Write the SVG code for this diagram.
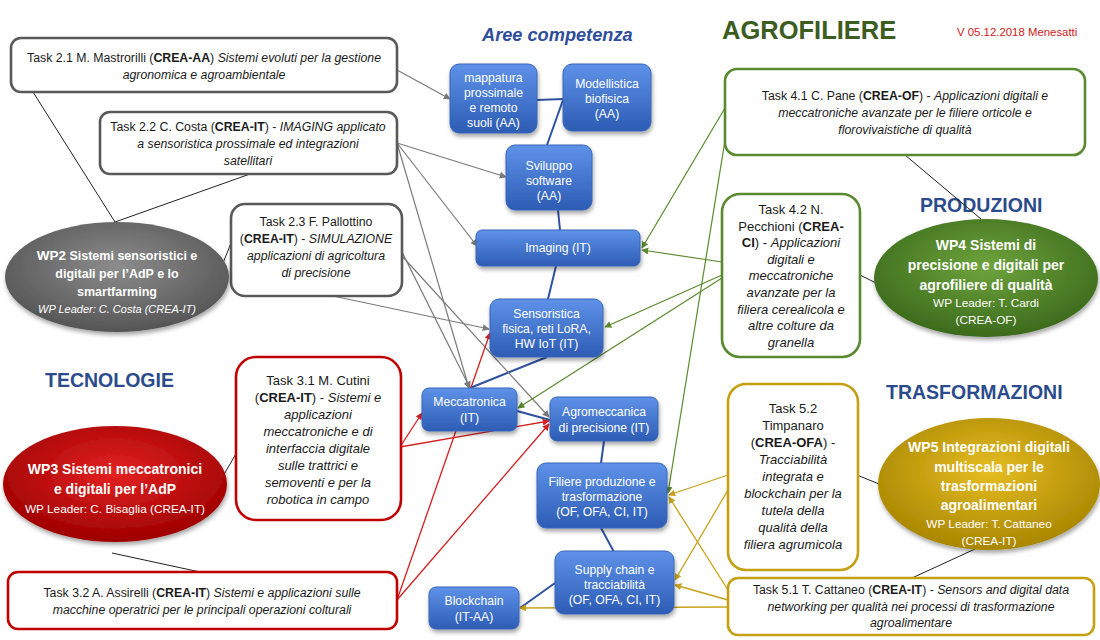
<svg xmlns="http://www.w3.org/2000/svg" width="1100" height="640" viewBox="0 0 1100 640">
<defs>
<style>
.t{font-family:"Liberation Sans",Arial,sans-serif;font-size:12.3px;fill:#1a1a1a;text-anchor:middle}
.t13{font-size:13px}
.b{font-weight:bold}
.i{font-style:italic}
.bx{font-family:"Liberation Sans",Arial,sans-serif;font-size:12.2px;fill:#fff;text-anchor:middle}
.wp{font-family:"Liberation Sans",Arial,sans-serif;fill:#fff;text-anchor:middle}
.head{font-family:"Liberation Sans",Arial,sans-serif;font-weight:bold;fill:#2b4b8c;font-size:19.5px}
.task{fill:#fff;stroke-width:2.6}
.g2{stroke:#595959}.g3{stroke:#c00000}.g4{stroke:#5a8a30}.g5{stroke:#c4a012}
.blue{fill:url(#bgrad);stroke:#3a66b8;stroke-width:1;filter:url(#sh)}
.lk{stroke:#222;stroke-width:1;fill:none}
.lb{stroke:#2f52a0;stroke-width:2;fill:none}
.lg{stroke:#7a7a7a;stroke-width:1.2;fill:none;marker-end:url(#ag)}
.lr{stroke:#d42020;stroke-width:1.3;fill:none;marker-end:url(#ar)}
.lgr{stroke:#5b8a2e;stroke-width:1.2;fill:none;marker-end:url(#agr)}
.ly{stroke:#c9a21a;stroke-width:1.3;fill:none;marker-end:url(#ay)}
</style>
<linearGradient id="bgrad" x1="0" y1="0" x2="0" y2="1">
<stop offset="0" stop-color="#5e92e8"/><stop offset="1" stop-color="#2d5cb4"/>
</linearGradient>
<radialGradient id="rgray" cx="0.5" cy="0.4" r="0.6"><stop offset="0" stop-color="#8c8c8c"/><stop offset="1" stop-color="#555"/></radialGradient>
<radialGradient id="rred" cx="0.5" cy="0.4" r="0.6"><stop offset="0" stop-color="#e42222"/><stop offset="1" stop-color="#9e0000"/></radialGradient>
<radialGradient id="rgreen" cx="0.5" cy="0.4" r="0.6"><stop offset="0" stop-color="#6ea43c"/><stop offset="1" stop-color="#3b6a1c"/></radialGradient>
<radialGradient id="rgold" cx="0.5" cy="0.4" r="0.6"><stop offset="0" stop-color="#e6bd22"/><stop offset="1" stop-color="#a88600"/></radialGradient>
<filter id="sh" x="-20%" y="-20%" width="140%" height="150%"><feDropShadow dx="1" dy="3" stdDeviation="2" flood-color="#000" flood-opacity="0.35"/></filter>
<marker id="ag" viewBox="0 0 10 10" refX="9" refY="5" markerWidth="7" markerHeight="7" orient="auto" markerUnits="userSpaceOnUse"><path d="M0,0 L10,5 L0,10 z" fill="#7a7a7a"/></marker>
<marker id="ar" viewBox="0 0 10 10" refX="9" refY="5" markerWidth="7" markerHeight="7" orient="auto" markerUnits="userSpaceOnUse"><path d="M0,0 L10,5 L0,10 z" fill="#d42020"/></marker>
<marker id="agr" viewBox="0 0 10 10" refX="9" refY="5" markerWidth="7" markerHeight="7" orient="auto" markerUnits="userSpaceOnUse"><path d="M0,0 L10,5 L0,10 z" fill="#5b8a2e"/></marker>
<marker id="ay" viewBox="0 0 10 10" refX="9" refY="5" markerWidth="7" markerHeight="7" orient="auto" markerUnits="userSpaceOnUse"><path d="M0,0 L10,5 L0,10 z" fill="#c9a21a"/></marker>
</defs>
<rect width="1100" height="640" fill="#fff"/>

<g id="titles">
<text x="482" y="41" font-family="Liberation Sans,Arial,sans-serif" font-size="18.2" font-weight="bold" font-style="italic" fill="#2e4d9a">Aree competenza</text>
<text x="722" y="39" font-family="Liberation Sans,Arial,sans-serif" font-size="25.5" font-weight="bold" fill="#3d5c1f">AGROFILIERE</text>
<text x="957" y="36" font-family="Liberation Sans,Arial,sans-serif" font-size="11.4" fill="#d02020">V 05.12.2018 Menesatti</text>
<text class="head" x="45" y="387">TECNOLOGIE</text>
<text class="head" x="920" y="212">PRODUZIONI</text>
<text class="head" x="886" y="399">TRASFORMAZIONI</text>
</g>

<g id="connectors">
<line class="lk" x1="33" y1="92" x2="115" y2="222"/>
<line class="lk" x1="250" y1="174" x2="115" y2="222"/>
<line class="lk" x1="231" y1="243" x2="215" y2="283"/>
<line class="lk" x1="215" y1="490" x2="237" y2="452"/>
<line class="lk" x1="112" y1="553" x2="200" y2="572"/>
<line class="lk" x1="905" y1="155" x2="981" y2="219"/>
<line class="lk" x1="860" y1="275" x2="876" y2="283"/>
<line class="lk" x1="857" y1="475" x2="879" y2="484"/>
<line class="lk" x1="912" y1="578" x2="975" y2="549"/>

<line class="lb" x1="537" y1="100" x2="563" y2="99"/>
<line class="lb" x1="563" y1="100" x2="547" y2="145"/>
<line class="lb" x1="558" y1="210" x2="560" y2="230"/>
<line class="lb" x1="556" y1="266" x2="548" y2="299"/>
<line class="lb" x1="547" y1="357" x2="470" y2="388"/>
<line class="lb" x1="517" y1="411" x2="550" y2="420"/>
<line class="lb" x1="604" y1="441" x2="601" y2="463"/>
<line class="lb" x1="601" y1="528" x2="614" y2="552"/>
<line class="lb" x1="555" y1="583" x2="520" y2="608"/>

<line class="lg" x1="397" y1="70" x2="450" y2="99"/>
<line class="lg" x1="397" y1="143" x2="506" y2="177"/>
<line class="lg" x1="397" y1="143" x2="477" y2="246"/>
<line class="lg" x1="397" y1="143" x2="469" y2="388"/>
<line class="lg" x1="402" y1="252" x2="470" y2="388"/>
<line class="lg" x1="402" y1="256" x2="549" y2="417"/>
<line class="lg" x1="333" y1="296" x2="489" y2="329"/>

<line class="lr" x1="400" y1="447" x2="422" y2="413"/>
<line class="lr" x1="400" y1="447" x2="549" y2="421"/>
<line class="lr" x1="397" y1="600" x2="490" y2="333"/>
<line class="lr" x1="397" y1="600" x2="549" y2="424"/>

<line class="lgr" x1="725" y1="108" x2="642" y2="248"/>
<line class="lgr" x1="727" y1="128" x2="668" y2="493"/>
<line class="lgr" x1="722" y1="262" x2="642" y2="250"/>
<line class="lgr" x1="722" y1="275" x2="605" y2="327"/>
<line class="lgr" x1="722" y1="278" x2="518" y2="408"/>

<line class="ly" x1="728" y1="475" x2="669" y2="495"/>
<line class="ly" x1="728" y1="490" x2="675" y2="580"/>
<line class="ly" x1="728" y1="590" x2="669" y2="497"/>
<line class="ly" x1="728" y1="600" x2="675" y2="585"/>
<line class="ly" x1="728" y1="607" x2="520" y2="608"/>
</g>

<g id="mappatura"><rect class="blue" x="450" y="64" width="87" height="69" rx="9"/>
<text class="bx" x="493.5" y="82">mappatura</text><text class="bx" x="493.5" y="97">prossimale</text><text class="bx" x="493.5" y="112">e remoto</text><text class="bx" x="493.5" y="127">suoli (AA)</text></g>
<g id="modellistica"><rect class="blue" x="563" y="64" width="88" height="67" rx="9"/>
<text class="bx" x="607" y="88">Modellistica</text><text class="bx" x="607" y="103">biofisica</text><text class="bx" x="607" y="118">(AA)</text></g>
<g id="sviluppo"><rect class="blue" x="506" y="145" width="86" height="65" rx="9"/>
<text class="bx" x="549" y="170">Sviluppo</text><text class="bx" x="549" y="185">software</text><text class="bx" x="549" y="200">(AA)</text></g>
<g id="imaging"><rect class="blue" x="476" y="230" width="164" height="36" rx="6"/>
<text class="bx" x="558" y="252">Imaging (IT)</text></g>
<g id="sensoristica"><rect class="blue" x="490" y="299" width="113" height="58" rx="9"/>
<text class="bx" x="546.5" y="318">Sensoristica</text><text class="bx" x="546.5" y="333">fisica, reti LoRA,</text><text class="bx" x="546.5" y="348">HW IoT (IT)</text></g>
<g id="meccatronica"><rect class="blue" x="422" y="388" width="95" height="43" rx="7"/>
<text class="bx" x="469.5" y="406">Meccatronica</text><text class="bx" x="469.5" y="422">(IT)</text></g>
<g id="agromeccanica"><rect class="blue" x="550" y="397" width="108" height="44" rx="7"/>
<text class="bx" x="604" y="416">Agromeccanica</text><text class="bx" x="604" y="432">di precisione (IT)</text></g>
<g id="filiere"><rect class="blue" x="537" y="463" width="130" height="65" rx="9"/>
<text class="bx" x="602" y="486">Filiere produzione e</text><text class="bx" x="602" y="501">trasformazione</text><text class="bx" x="602" y="516">(OF, OFA, CI, IT)</text></g>
<g id="supplychain"><rect class="blue" x="555" y="551" width="119" height="63" rx="9"/>
<text class="bx" x="614.5" y="574">Supply chain e</text><text class="bx" x="614.5" y="589">tracciabilità</text><text class="bx" x="614.5" y="604">(OF, OFA, CI, IT)</text></g>
<g id="blockchain"><rect class="blue" x="429" y="587" width="90" height="42" rx="7"/>
<text class="bx" x="474" y="605">Blockchain</text><text class="bx" x="474" y="621">(IT-AA)</text></g>

<g id="task21"><rect class="task g2" x="11" y="38" width="386" height="54" rx="10"/>
<text class="t" x="204" y="62">Task 2.1 M. Mastrorilli (<tspan class="b">CREA-AA</tspan>) <tspan class="i">Sistemi evoluti per la gestione</tspan></text>
<text class="t i" x="204" y="79">agronomica e agroambientale</text></g>
<g id="task22"><rect class="task g2" x="100" y="112" width="297" height="62" rx="10"/>
<text class="t" x="248" y="131">Task 2.2 C. Costa (<tspan class="b">CREA-IT</tspan>) - <tspan class="i">IMAGING applicato</tspan></text>
<text class="t i" x="248" y="148">a sensoristica prossimale ed integrazioni</text>
<text class="t i" x="248" y="165">satellitari</text></g>
<g id="task23"><rect class="task g2" x="231" y="204" width="171" height="92" rx="14"/>
<text class="t" x="316" y="226">Task 2.3 F. Pallottino</text>
<text class="t" x="316" y="243">(<tspan class="b">CREA-IT</tspan>) - <tspan class="i">SIMULAZIONE</tspan></text>
<text class="t i" x="316" y="260">applicazioni di agricoltura</text>
<text class="t i" x="316" y="277">di precisione</text></g>

<g id="wp2"><ellipse cx="117" cy="277" rx="112" ry="55" fill="url(#rgray)" filter="url(#sh)"/>
<text class="wp b" x="117" y="260" font-size="12.5"><tspan font-size="13.5">WP2</tspan> Sistemi sensoristici e</text>
<text class="wp b" x="117" y="278" font-size="12.5">digitali  per l’AdP e lo</text>
<text class="wp b" x="117" y="296" font-size="12.5">smartfarming</text>
<text class="wp i" x="117" y="313" font-size="11">WP Leader: C. Costa (CREA-IT)</text></g>

<g id="task31"><rect class="task g3" x="236" y="357" width="165" height="163" rx="20"/>
<text class="t t13" x="318" y="385">Task 3.1 M. Cutini</text>
<text class="t t13" x="318" y="402">(<tspan class="b">CREA-IT</tspan>) - <tspan class="i">Sistemi e</tspan></text>
<text class="t t13 i" x="318" y="419">applicazioni</text>
<text class="t t13 i" x="318" y="436">meccatroniche e di</text>
<text class="t t13 i" x="318" y="453">interfaccia digitale</text>
<text class="t t13 i" x="318" y="470">sulle trattrici  e</text>
<text class="t t13 i" x="318" y="487">semoventi e per la</text>
<text class="t t13 i" x="318" y="504">robotica in campo</text></g>

<g id="wp3"><ellipse cx="115" cy="484" rx="112" ry="58" fill="url(#rred)" filter="url(#sh)"/>
<text class="wp b" x="115" y="474" font-size="14">WP3 Sistemi meccatronici</text>
<text class="wp b" x="115" y="494" font-size="14">e digitali per l’AdP</text>
<text class="wp" x="115" y="513" font-size="11.8">WP Leader: C. Bisaglia (CREA-IT)</text></g>

<g id="task32"><rect class="task g3" x="8" y="572" width="389" height="57" rx="10"/>
<text class="t" x="202" y="597">Task 3.2 A. Assirelli (<tspan class="b">CREA-IT</tspan>) <tspan class="i">Sistemi e applicazioni sulle</tspan></text>
<text class="t i" x="202" y="614">macchine operatrici per le principali operazioni colturali</text></g>

<g id="task41"><rect class="task g4" x="725" y="69" width="360" height="86" rx="12"/>
<text class="t" x="905" y="100">Task 4.1 C. Pane (<tspan class="b">CREA-OF</tspan>) - <tspan class="i">Applicazioni digitali e</tspan></text>
<text class="t i" x="905" y="117">meccatroniche avanzate per le filiere orticole e</text>
<text class="t i" x="905" y="134">florovivaistiche di qualità</text></g>

<g id="task42"><rect class="task g4" x="722" y="194" width="138" height="163" rx="18"/>
<text class="t t13" x="791" y="214">Task 4.2 N.</text>
<text class="t t13" x="791" y="231">Pecchioni (<tspan class="b">CREA-</tspan></text>
<text class="t t13" x="791" y="247"><tspan class="b">CI</tspan>) - <tspan class="i">Applicazioni</tspan></text>
<text class="t t13 i" x="791" y="264">digitali e</text>
<text class="t t13 i" x="791" y="280">meccatroniche</text>
<text class="t t13 i" x="791" y="297">avanzate per la</text>
<text class="t t13 i" x="791" y="314">filiera cerealicola e</text>
<text class="t t13 i" x="791" y="330">altre colture da</text>
<text class="t t13 i" x="791" y="347">granella</text></g>

<g id="wp4"><ellipse cx="986" cy="278" rx="112" ry="59" fill="url(#rgreen)" filter="url(#sh)"/>
<text class="wp b" x="986" y="250" font-size="14">WP4 Sistemi di</text>
<text class="wp b" x="986" y="270" font-size="14">precisione e digitali per</text>
<text class="wp b" x="986" y="290" font-size="14">agrofiliere di qualità</text>
<text class="wp" x="986" y="307" font-size="11.8">WP Leader: T. Cardi</text>
<text class="wp" x="986" y="324" font-size="11.8">(CREA-OF)</text></g>

<g id="task52"><rect class="task g5" x="728" y="384" width="130" height="186" rx="18"/>
<text class="t t13" x="793" y="413">Task 5.2</text>
<text class="t t13" x="793" y="430">Timpanaro</text>
<text class="t t13" x="793" y="447">(<tspan class="b">CREA-OFA</tspan>) -</text>
<text class="t t13 i" x="793" y="464">Tracciabilità</text>
<text class="t t13 i" x="793" y="481">integrata e</text>
<text class="t t13 i" x="793" y="498">blockchain per la</text>
<text class="t t13 i" x="793" y="515">tutela della</text>
<text class="t t13 i" x="793" y="532">qualità della</text>
<text class="t t13 i" x="793" y="549">filiera agrumicola</text></g>

<g id="wp5"><ellipse cx="989" cy="484" rx="111" ry="66" fill="url(#rgold)" filter="url(#sh)"/>
<text class="wp b" x="989" y="452" font-size="14">WP5 Integrazioni digitali</text>
<text class="wp b" x="989" y="472" font-size="14">multiscala per le</text>
<text class="wp b" x="989" y="491" font-size="14">trasformazioni</text>
<text class="wp b" x="989" y="510" font-size="14">agroalimentari</text>
<text class="wp" x="989" y="528" font-size="11.8">WP Leader: T. Cattaneo</text>
<text class="wp" x="989" y="545" font-size="11.8">(CREA-IT)</text></g>

<g id="task51"><rect class="task g5" x="728" y="578" width="366" height="57" rx="10"/>
<text class="t" x="911" y="594">Task 5.1 T. Cattaneo (<tspan class="b">CREA-IT</tspan>) - <tspan class="i">Sensors and digital data</tspan></text>
<text class="t i" x="911" y="611">networking per qualità nei processi di trasformazione</text>
<text class="t i" x="911" y="627">agroalimentare</text></g>
</svg>
